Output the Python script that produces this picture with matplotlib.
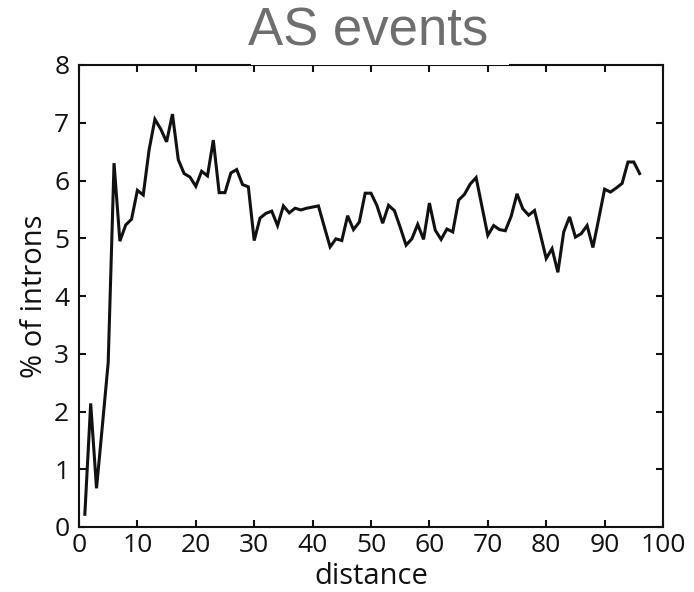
import matplotlib
matplotlib.use("Agg")
import matplotlib.pyplot as plt
from matplotlib.patches import Rectangle

distance = list(range(1, 97))
pct_introns = [
    0.22, 2.14, 0.67, 1.75, 2.85, 6.30, 4.95, 5.23, 5.33, 5.83,
    5.75, 6.53, 7.06, 6.89, 6.67, 7.15, 6.36, 6.12, 6.06, 5.90,
    6.16, 6.08, 6.70, 5.79, 5.79, 6.13, 6.19, 5.93, 5.89, 4.96,
    5.35, 5.43, 5.47, 5.22, 5.56, 5.44, 5.52, 5.49, 5.52, 5.54,
    5.56, 5.20, 4.85, 4.99, 4.96, 5.39, 5.15, 5.28, 5.78, 5.78,
    5.57, 5.26, 5.57, 5.48, 5.19, 4.88, 4.99, 5.24, 4.98, 5.61,
    5.14, 4.98, 5.16, 5.11, 5.66, 5.76, 5.94, 6.05, 5.55, 5.05,
    5.22, 5.15, 5.13, 5.38, 5.77, 5.51, 5.40, 5.48, 5.07, 4.65,
    4.82, 4.41, 5.11, 5.37, 5.02, 5.08, 5.22, 4.84, 5.34, 5.85,
    5.80, 5.87, 5.95, 6.32, 6.32, 6.12,
]
x_ticks = [0, 10, 20, 30, 40, 50, 60, 70, 80, 90, 100]
y_ticks = [0, 1, 2, 3, 4, 5, 6, 7, 8]
title = "AS events"
x_label = "distance"
y_label = "% of introns"

W, H = 694, 592
fig = plt.figure(figsize=(W / 100, H / 100), dpi=100)
ax_l, ax_r, ax_t, ax_b = 79, 663, 65, 527
ax = fig.add_axes([ax_l / W, 1 - ax_b / H, (ax_r - ax_l) / W, (ax_b - ax_t) / H])

ax.plot(distance, pct_introns, color="#111111", lw=2.2, solid_joinstyle="miter")
ax.set_xlim(0, 100)
ax.set_ylim(0, 8)
ax.set_xticks(x_ticks)
ax.set_yticks(y_ticks)
for s in ax.spines.values():
    s.set_linewidth(1.5)
    s.set_color("#111111")
ax.tick_params(direction="in", length=5, width=1.5, top=True, right=True,
               labelsize=19, colors="#111111")
ax.tick_params(axis="x", pad=4)
ax.tick_params(axis="y", pad=7)
for lab in ax.get_xticklabels() + ax.get_yticklabels():
    lab.set_family("Open Sans")
ax.set_xlabel(x_label, fontsize=21, family="Open Sans", labelpad=3, color="#111111")
ax.set_ylabel(y_label, fontsize=21, family="Open Sans", labelpad=4, color="#111111")

# white box behind the title that overlaps the top frame
fig.patches.append(Rectangle((251 / W, 1 - 65 / H), (509 - 251) / W, 40 / H,
                             transform=fig.transFigure, facecolor="white",
                             edgecolor="none", zorder=5))
fig.text(368 / W, 1 - 32 / H, title, ha="center", va="center", fontsize=38,
         family="Liberation Sans", color="#6e6e6e", zorder=6)

fig.savefig("out.png", dpi=100)
